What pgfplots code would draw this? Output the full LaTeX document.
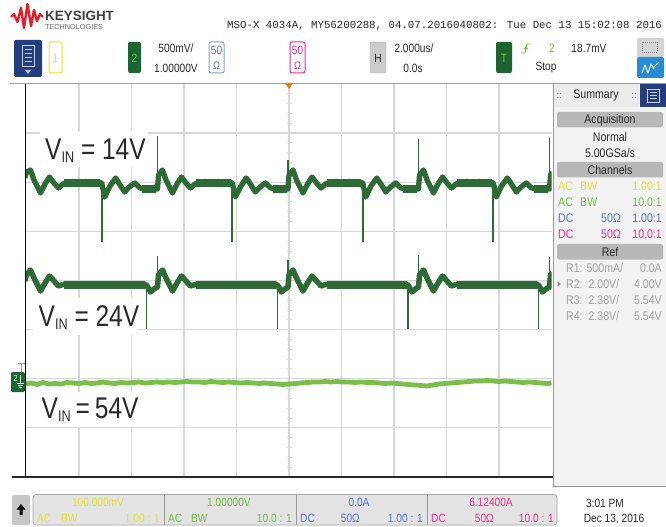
\documentclass[border=0pt]{standalone}
\usepackage{pgfplots}
\pgfplotsset{compat=1.18}
\usetikzlibrary{arrows.meta}
\usepackage{fontspec}
\setmainfont{Liberation Sans}
\newfontfamily\cond[FakeStretch=0.85]{Liberation Sans}
\newfontfamily\lbl[FakeStretch=0.82]{Liberation Sans}
\newfontfamily\mono{Liberation Mono}
\newcommand{\fs}[1]{\fontsize{#1}{#1}\selectfont}
\definecolor{gridgray}{RGB}{216,216,216}
\definecolor{trdark}{RGB}{46,106,54}
\definecolor{trlight}{RGB}{122,192,72}
\definecolor{chyellow}{RGB}{228,228,50}
\definecolor{chgreen}{RGB}{112,190,64}
\definecolor{chblue}{RGB}{85,115,205}
\definecolor{chpink}{RGB}{240,45,140}
\definecolor{boxgreen}{RGB}{28,100,50}
\definecolor{navy}{RGB}{36,62,125}
\definecolor{btnblue}{RGB}{40,140,212}
\definecolor{panelbg}{RGB}{242,242,242}
\definecolor{bargray}{RGB}{184,184,184}
\definecolor{refgray}{RGB}{160,160,160}
\definecolor{txt}{RGB}{40,40,40}
\definecolor{ksred}{RGB}{228,30,42}
\begin{document}
\begin{tikzpicture}[x=1bp,y=-1bp]
\useasboundingbox (0,0) rectangle (666,527);
\fill[white] (0,0) rectangle (666,527);
% small ticks on centre vertical graticule line
\foreach \k in {1,...,39} {\draw[gridgray,line width=0.9bp] (286.5,{84+\k*9.825}) -- (291.5,{84+\k*9.825});}
\begin{axis}[
  at={(288.25,280.5)}, anchor=center,
  width=526.5bp, height=393bp, scale only axis,
  xmin=25, xmax=551.5, ymin=84, ymax=477, y dir=reverse,
  axis line style={draw=none},
  xtick={79,131.5,184,236.5,289,341.5,394,446.5,499},
  ytick={133.1,182.2,231.3,280.4,329.5,378.6,427.7},
  xticklabels={}, yticklabels={},
  tick style={draw=none},
  grid=major, major grid style={draw=gridgray, line width=1.4bp},
  clip=true,
]
% V_IN = 14 V  (trace band)
\addplot[trdark, line width=5.3bp, line join=round] coordinates {
(25,178) (25.5,175) (27,172) (30.5,170) (34,180) (40.5,193) (45,184) (49.5,177) (54,183) (58.5,188) (63,184) (68,182) (74,181.5) (80,182.5) (86,181.5) (92,182.5) (98,182) (101.7,183)
(104.7,197) (110,186) (115.7,178) (120,185) (124.7,192) (129,187) (134.7,183) (140,188) (146,189) (152,188.5) (157.5,189)
(158.5,175) (162.5,170) (166,180) (172.5,193) (177,184) (181.5,177) (186,183) (190.5,188) (195,184) (200,182) (206,181.5) (212,182.5) (218,181.5) (224,182.5) (229,182) (232.3,183)
(235.3,197) (241,186) (246.3,178) (251,185) (255.3,192) (260,187) (265.3,183) (271,188) (277,189) (283,188.5) (288,189)
(289,175) (293,170) (296.5,180) (303,193) (307.5,184) (312,177) (316.5,183) (321,188) (325.5,184) (331,182) (337,181.5) (343,182.5) (349,181.5) (355,182.5) (360,182) (362.8,183)
(365.8,197) (371,186) (376.8,178) (381.5,185) (385.8,192) (390.5,187) (395.8,183) (401,188) (407,189) (413,188.5) (418.5,189)
(419.5,175) (423.5,170) (427,180) (433.5,193) (438,184) (442.5,177) (447,183) (451.5,188) (456,184) (461,182) (467,181.5) (473,182.5) (479,181.5) (485,182.5) (490,182) (493.3,183)
(496.3,197) (501.5,186) (507.3,178) (512,185) (516.3,192) (521,187) (526.3,183) (531.5,188) (537.5,189) (543.5,188.5) (549.5,189)
(550.5,175) (552,172)
};
% V_IN = 14 V  (noisy flat parts, wider band)
\addplot[trdark, line width=8bp, unbounded coords=jump] coordinates {
(64,182.5) (100,182.5) (100,nan) (142,188.5) (156,188.5) (156,nan)
(196,182.5) (231,182.5) (231,nan) (273,188.5) (287,188.5) (287,nan)
(327,182.5) (361,182.5) (361,nan) (403,188.5) (417,188.5) (417,nan)
(457,182.5) (492,182.5) (492,nan) (534,188.5) (548,188.5)
};
% V_IN = 14 V  (fast edges)
\addplot[trdark, line width=1.7bp, unbounded coords=jump] coordinates {
(25.5,188) (25.5,138) (25.5,nan)
(157.5,188) (157.5,136) (157.5,nan)
(288,188) (288,160) (288,nan)
(418.5,188) (418.5,139) (418.5,nan)
(549.5,188) (549.5,138) (549.5,nan)
(101.7,183) (101.7,242) (101.7,nan)
(232.3,183) (232.3,242) (232.3,nan)
(362.8,183) (362.8,242) (362.8,nan)
(493.3,183) (493.3,242)
};
% V_IN = 24 V  (trace band)
\addplot[trdark, line width=5.5bp, line join=round] coordinates {
(25,281) (26.5,275) (30.5,270) (34,278) (40.5,291) (45,283) (49.5,276) (54,281) (58.5,286) (63,284.5) (75,284) (90,284.5) (105,284) (120,284.5) (135,284.5) (146.5,285)
(150.5,292) (154,289) (157.5,287)
(158.5,275) (162.5,270) (166,278) (172.5,291) (177,283) (181.5,276) (186,281) (190.5,286) (195,284.5) (210,284) (225,284.5) (240,284) (255,284.5) (270,284.5) (277.5,285)
(281.5,292) (285,289) (288,287)
(289,275) (293,270) (296.5,278) (303,291) (307.5,283) (312,276) (316.5,281) (321,286) (325.5,284.5) (340,284) (355,284.5) (370,284) (385,284.5) (400,284.5) (408,285)
(412,292) (415.5,289) (418.5,287)
(419.5,275) (423.5,270) (427,278) (433.5,291) (438,283) (442.5,276) (447,281) (451.5,286) (456,284.5) (470,284) (485,284.5) (500,284) (515,284.5) (530,284.5) (538.5,285)
(542.5,292) (546,289) (549.5,287)
(550.5,275) (552,272)
};
% V_IN = 24 V  (noisy flat parts, wider band)
\addplot[trdark, line width=8bp, unbounded coords=jump] coordinates {
(64,284.5) (145,284.5) (145,nan)
(196,284.5) (276,284.5) (276,nan)
(327,284.5) (407,284.5) (407,nan)
(457,284.5) (537,284.5)
};
% V_IN = 24 V  (fast edges)
\addplot[trdark, line width=1.7bp, unbounded coords=jump] coordinates {
(25.5,284) (25.5,258) (25.5,nan)
(157.5,284) (157.5,256) (157.5,nan)
(288,284) (288,260) (288,nan)
(418.5,284) (418.5,255) (418.5,nan)
(549.5,284) (549.5,257) (549.5,nan)
(146.5,285) (146.5,329) (146.5,nan)
(277.5,285) (277.5,329) (277.5,nan)
(408,285) (408,329) (408,nan)
(538.5,285) (538.5,329)
};
% V_IN = 54 V
\addplot[trlight, line width=4.8bp, line join=round] coordinates {
(25,384) (31,383) (37,384.5) (43,382.5) (49,384) (55,383.5) (61,384) (67,382.5) (73,383) (79,383.5) (85,382.5) (91,383.5) (97,383) (103,382) (109,383) (115,383.5) (121,382.5) (127,383) (133,382.5) (139,382) (145,383) (151,382.5) (157,382) (163,382.5) (169,382) (175,382.5) (181,382) (187,381.5) (193,382) (199,382) (205,382.5) (211,381.5) (217,382) (223,382.5) (229,382) (235,382.5) (241,383) (247,382.5) (253,383) (259,383.5) (265,383) (271,383.5) (277,384) (283,384.5) (289,384) (295,383.5) (301,383) (307,382.5) (313,382) (319,382) (325,381.5) (331,382) (337,381.5) (343,382) (349,382) (355,382.5) (361,382) (367,382.5) (373,382.5) (379,383) (385,383.5) (391,383) (397,383.5) (403,384) (409,384.5) (415,385) (421,385.5) (427,386) (433,385) (439,384) (445,383.5) (451,383) (457,382.5) (463,382) (469,381.5) (475,381) (481,381) (487,380.5) (493,381) (499,381.5) (505,381) (511,381.5) (517,382) (523,382.5) (529,382) (535,382.5) (541,383) (547,383.5) (551.5,383)
};
\end{axis}
% frame of the graticule
\draw[gray!75, line width=1.6bp] (10,83.5) -- (553,83.5);
\fill[orange!90!red] (285,83) -- (293,83) -- (289,89) -- cycle;
\draw[black, line width=1.3bp] (25.3,84) -- (25.3,477);
\draw[black!85, line width=1.6bp] (12,477.2) -- (553,477.2);
% labels
\fill[white] (40,131) rectangle (148,167);
\node[anchor=base west, inner sep=0, text=txt, font=\lbl\fs{30}] at (45,160) {V\raisebox{-3bp}{\fs{15.5}IN} = 14V};
\fill[white] (33,298) rectangle (138,335);
\node[anchor=base west, inner sep=0, text=txt, font=\lbl\fs{30}] at (38.5,326.5) {V\raisebox{-3bp}{\fs{15.5}IN} = 24V};
\fill[white] (36,392) rectangle (142,426.5);
\node[anchor=base west, inner sep=0, text=txt, font=\lbl\fs{30}] at (41.5,418.5) {V\raisebox{-3bp}{\fs{15.5}IN}\,=\,54V};
% channel 2 marker and trigger level marker
\fill[boxgreen, rounded corners=1.5bp] (11,372) rectangle (25,392);
\node[text=white!80!green, font=\cond\fs{9}, inner sep=0] at (15.5,378) {2};
\draw[white!80!green, line width=0.6bp] (20,375) -- (20,383) (16.5,383) -- (23.5,383) (17.5,385) -- (22.5,385) (18.5,387) -- (21.5,387);
\draw[chgreen, line width=0.8bp] (17.5,363.5) -- (25,363.5) (21.3,363.5) -- (21.3,372);
% ---------- header ----------
\draw[ksred, line width=2.4bp, line join=round] (11,17) -- (14,14) -- (17.5,22) -- (21,8) -- (24,28) -- (27.5,4) -- (31,26) -- (34,10) -- (37,21) -- (40,14) -- (43,17);
\node[anchor=base west, inner sep=0, text=black!75, font=\bfseries\fs{13.5}] at (45,21) {KEYSIGHT};
\node[anchor=base west, inner sep=0, text=black!60, font=\fs{7.3}] at (45,29.5) {TECHNOLOGIES};
\node[anchor=base west, inner sep=0, text=txt, font=\mono\fs{10.8}] at (227,28.5) {MSO-X 4034A, MY56200288, 04.07.2016040802: Tue Dec 13 15:02:08 2016};
% navy menu button
\fill[navy, rounded corners=2bp] (14,40) rectangle (42,77);
\draw[white!75!navy, line width=0.8bp] (22,45) rectangle (34,66);
\foreach \yy in {49,53,57,61} {\draw[white!75!navy, line width=0.8bp] (24.5,\yy) -- (31.5,\yy);}
\fill[white!70!navy] (25,70) -- (31,70) -- (28,74) -- cycle;
% channel boxes
\draw[chyellow, line width=1bp, rounded corners=2bp] (49,42) rectangle (62,73);
\node[text=chyellow, font=\cond\fs{12}, inner sep=0] at (55.5,58) {1};
\fill[boxgreen, rounded corners=2bp] (128,42) rectangle (141,73);
\node[text=chgreen, font=\cond\fs{12}, inner sep=0] at (134.5,58) {2};
\node[text=txt, font=\cond\fs{12}, inner sep=0] at (176,48.5) {500mV/};
\node[text=txt, font=\cond\fs{12}, inner sep=0] at (176,68) {1.00000V};
\draw[chblue!70, line width=1bp, rounded corners=2bp] (209,42) rectangle (224,73);
\node[text=chblue, font=\cond\fs{12}, inner sep=0] at (216.5,50.5) {50};
\node[text=chblue, font=\cond\fs{11}, inner sep=0] at (216.5,65.5) {Ω};
\draw[chpink, line width=1bp, rounded corners=2bp] (290,42) rectangle (305,73);
\node[text=chpink, font=\cond\fs{12}, inner sep=0] at (297.5,50.5) {50};
\node[text=chpink, font=\cond\fs{11}, inner sep=0] at (297.5,65.5) {Ω};
\filldraw[fill=black!20, draw=black!35, rounded corners=2bp] (370,42) rectangle (386,73);
\node[text=txt, font=\cond\fs{12}, inner sep=0] at (378,58) {H};
\node[text=txt, font=\cond\fs{12}, inner sep=0] at (414,48.5) {2.000us/};
\node[text=txt, font=\cond\fs{12}, inner sep=0] at (413,68) {0.0s};
\fill[boxgreen, rounded corners=2bp] (496,42) rectangle (512,73);
\node[text=chgreen, font=\cond\fs{12}, inner sep=0] at (504,58) {T};
\draw[chgreen, line width=0.9bp] (521,53) -- (525,53) -- (527,44) -- (531,44);
\fill[chgreen] (523.6,49.5) -- (528.4,49.5) -- (526,46) -- cycle;
\node[text=chgreen, font=\cond\fs{12}, inner sep=0] at (552,48.5) {2};
\node[text=txt, font=\cond\fs{12}, inner sep=0] at (589,48.5) {18.7mV};
\node[text=txt, font=\cond\fs{12}, inner sep=0] at (546,68) {Stop};
\fill[black!17, rounded corners=2bp] (637,38) rectangle (664,57);
\draw[black!45, dash pattern=on 1bp off 1bp, line width=0.7bp] (642,42) rectangle (657,52);
\fill[btnblue, rounded corners=2bp] (637,57) rectangle (664,78);
\draw[white, line width=0.9bp, line join=round] (642,73) -- (645,65) -- (648,73) -- (651,64) -- (654,69);
\draw[white, line width=0.9bp, -{Latex[length=2.5bp]}] (653,68) -- (659,62);
% ---------- right panel ----------
\filldraw[fill=panelbg, draw=black!40, line width=1bp] (553,84) rectangle (667,486);
\fill[black!8] (553.5,84.5) rectangle (639,107);
\node[text=txt, font=\cond\fs{12.5}, inner sep=0] at (596,95.5) {Summary};
\foreach \xx in {559,634} {\foreach \dy in {-2,2} {\fill[black!45] (\xx-1.3,95.5+\dy) circle (0.6bp); \fill[black!45] (\xx+1.3,95.5+\dy) circle (0.6bp);}}
\fill[navy] (640,84.5) rectangle (666,107);
\draw[white!75!navy, line width=0.8bp] (647,89) rectangle (659,102);
\foreach \yy in {92,95,98} {\draw[white!75!navy, line width=0.7bp] (649.5,\yy) -- (656.5,\yy);}
\fill[bargray, rounded corners=2bp] (557,112) rectangle (663,127.5);
\node[text=txt, font=\cond\fs{12.5}, inner sep=0] at (610,120) {Acquisition};
\node[text=txt, font=\cond\fs{12.5}, inner sep=0] at (610,137) {Normal};
\node[text=txt, font=\cond\fs{12.5}, inner sep=0] at (610,153.5) {5.00GSa/s};
\fill[bargray, rounded corners=2bp] (557,162) rectangle (663,177.5);
\node[text=txt, font=\cond\fs{12.5}, inner sep=0] at (610,170) {Channels};
\begin{scope}[every node/.style={inner sep=0, font=\cond\fs{12.5}}]
\node[text=chyellow, anchor=west] at (558,186) {AC};
\node[text=chyellow, anchor=west] at (580,186) {BW};
\node[text=chyellow, anchor=east] at (662,186) {1.00:1};
\node[text=chgreen, anchor=west] at (558,202) {AC};
\node[text=chgreen, anchor=west] at (580,202) {BW};
\node[text=chgreen, anchor=east] at (662,202) {10.0:1};
\node[text=chblue, anchor=west] at (558,218) {DC};
\node[text=chblue, anchor=east] at (621,218) {50Ω};
\node[text=chblue, anchor=east] at (662,218) {1.00:1};
\node[text=chpink, anchor=west] at (558,234.5) {DC};
\node[text=chpink, anchor=east] at (621,234.5) {50Ω};
\node[text=chpink, anchor=east] at (662,234.5) {10.0:1};
\end{scope}
\fill[bargray, rounded corners=2bp] (557,244) rectangle (663,259.5);
\node[text=txt, font=\cond\fs{12.5}, inner sep=0] at (610,252) {Ref};
\begin{scope}[every node/.style={inner sep=0, font=\cond\fs{12.5}, text=refgray}]
\node[anchor=west] at (566,268) {R1: 500mA/};
\node[anchor=east] at (662,268) {0.0A};
\fill[black!45] (557.5,281.5) -- (557.5,286.5) -- (561,284) -- cycle;
\node[anchor=west] at (566,284.5) {R2:\ \ 2.00V/};
\node[anchor=east] at (662,284.5) {4.00V};
\node[anchor=west] at (566,300.5) {R3:\ \ 2.38V/};
\node[anchor=east] at (662,300.5) {5.54V};
\node[anchor=west] at (566,316.5) {R4:\ \ 2.38V/};
\node[anchor=east] at (662,316.5) {5.54V};
\end{scope}
% ---------- footer ----------
\fill[black!22, rounded corners=2bp] (12,495) rectangle (30,525);
\fill[black] (21,504) -- (25.5,509.5) -- (22.5,509.5) -- (22.5,515) -- (19.5,515) -- (19.5,509.5) -- (16.5,509.5) -- cycle;
\filldraw[fill=black!11, draw=black!35, line width=0.8bp, rounded corners=3bp] (33,494.5) rectangle (557,525);
\foreach \xx in {164,296,427} {\draw[black!40, line width=0.8bp] (\xx,494.5) -- (\xx,525);}
\begin{scope}[every node/.style={inner sep=0, font=\cond\fs{12}}]
\node[text=chyellow] at (98,502) {100.000mV};
\node[text=chyellow, anchor=west] at (37,518) {AC};
\node[text=chyellow, anchor=west] at (61,518) {BW};
\node[text=chyellow, anchor=east] at (160,518) {1.00 : 1};
\node[text=chgreen] at (229,502) {1.00000V};
\node[text=chgreen, anchor=west] at (168,518) {AC};
\node[text=chgreen, anchor=west] at (191,518) {BW};
\node[text=chgreen, anchor=east] at (292,518) {10.0 : 1};
\node[text=chblue] at (359,502) {0.0A};
\node[text=chblue, anchor=west] at (300,518) {DC};
\node[text=chblue, anchor=east] at (360,518) {50Ω};
\node[text=chblue, anchor=east] at (423,518) {1.00 : 1};
\node[text=chpink] at (491,502) {6.12400A};
\node[text=chpink, anchor=west] at (431,518) {DC};
\node[text=chpink, anchor=east] at (494,518) {50Ω};
\node[text=chpink, anchor=east] at (554,518) {10.0 : 1};
\node[text=txt] at (605,503) {3:01 PM};
\node[text=txt] at (614,519) {Dec 13, 2016};
\end{scope}
\end{tikzpicture}
\end{document}
